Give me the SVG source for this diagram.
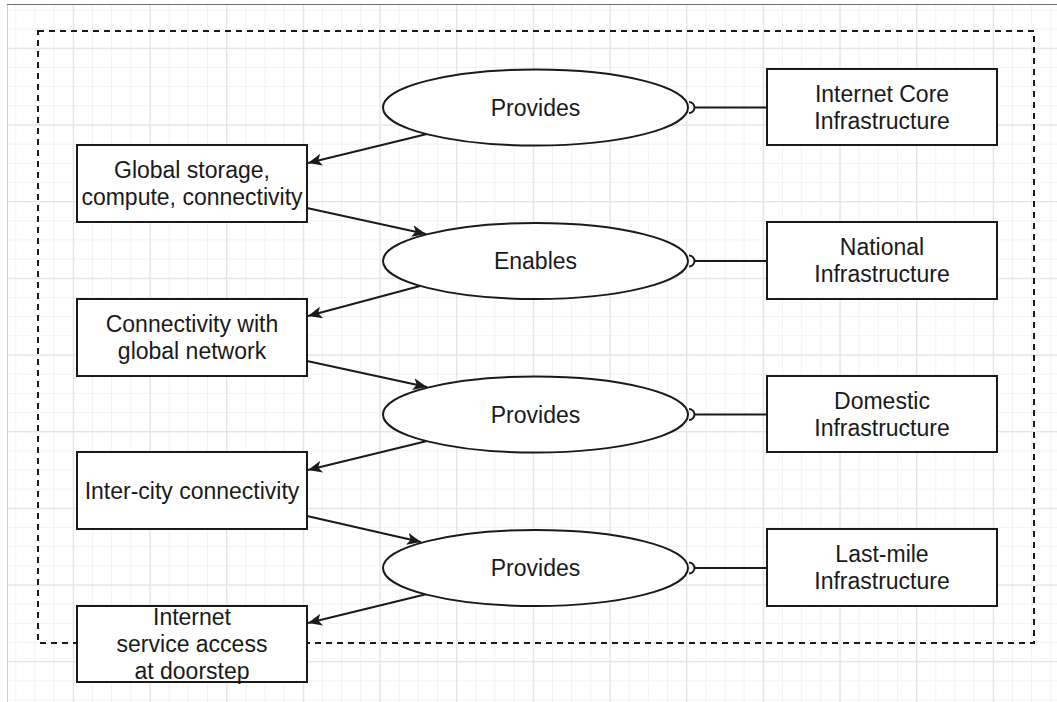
<svg xmlns="http://www.w3.org/2000/svg" width="1057" height="702" viewBox="0 0 1057 702">
  <style>
    .box { fill: #ffffff; stroke: #1a1a1a; stroke-width: 2; }
    .label { font-family: "Liberation Sans", Arial, Helvetica, sans-serif; font-size: 23px; fill: #1a1a1a; text-anchor: middle; }
    .edge { fill: none; stroke: #1a1a1a; stroke-width: 2; }
  </style>
  <defs>
    <pattern id="gridMinor" patternUnits="userSpaceOnUse" x="72.8" y="47.8" width="19.1667" height="19.1667">
      <path d="M0 0.5H19.1667M0.5 0V19.1667" stroke="#f2f2f2" stroke-width="1" fill="none"/>
    </pattern>
    <pattern id="gridMajor" patternUnits="userSpaceOnUse" x="72.8" y="47.8" width="76.6667" height="76.6667">
      <path d="M0 0.5H76.6667M0.5 0V76.6667" stroke="#e3e3e3" stroke-width="1.5" fill="none"/>
    </pattern>
    <marker id="arrow" viewBox="0 0 14 12" refX="14" refY="6" markerWidth="14" markerHeight="12" markerUnits="userSpaceOnUse" orient="auto">
      <path d="M0,0 L14,6 L0,12 L3.5,6 Z" fill="#1a1a1a"/>
    </marker>
  </defs>

  <!-- page background with grid -->
  <rect x="0" y="0" width="1057" height="702" fill="#ffffff"/>
  <rect x="7" y="4" width="1050" height="698" fill="url(#gridMinor)"/>
  <rect x="7" y="4" width="1050" height="698" fill="url(#gridMajor)"/>
  <line x1="7.5" y1="4" x2="7.5" y2="702" stroke="#cfcfcf" stroke-width="1"/>
  <line x1="7" y1="4.5" x2="1057" y2="4.5" stroke="#6e6e6e" stroke-width="1"/>

  <!-- dashed container -->
  <rect id="container" x="38" y="31" width="996" height="612" fill="none" stroke="#1a1a1a" stroke-width="2" stroke-dasharray="6 5"/>

  <!-- connectors -->
  <g id="connectors">
    <!-- ellipse to infrastructure links (half-circle ends) -->
    <path class="edge" d="M689,102 A5.5,5.5 0 0 1 689,113 M694.5,107.5 H767"/>
    <path class="edge" d="M689,255.5 A5.5,5.5 0 0 1 689,266.5 M694.5,261 H767"/>
    <path class="edge" d="M689,409 A5.5,5.5 0 0 1 689,420 M694.5,414.5 H767"/>
    <path class="edge" d="M689,562.5 A5.5,5.5 0 0 1 689,573.5 M694.5,568 H767"/>
    <!-- flow arrows -->
    <line class="edge" x1="427" y1="134" x2="308" y2="163" marker-end="url(#arrow)"/>
    <line class="edge" x1="307" y1="208" x2="426" y2="234" marker-end="url(#arrow)"/>
    <line class="edge" x1="420" y1="286" x2="308" y2="316" marker-end="url(#arrow)"/>
    <line class="edge" x1="307" y1="361" x2="427" y2="387" marker-end="url(#arrow)"/>
    <line class="edge" x1="427" y1="441" x2="308" y2="470" marker-end="url(#arrow)"/>
    <line class="edge" x1="307" y1="516" x2="421" y2="542" marker-end="url(#arrow)"/>
    <line class="edge" x1="427" y1="594" x2="308" y2="623" marker-end="url(#arrow)"/>
  </g>

  <!-- left column: outcomes -->
  <g id="global-storage">
    <rect class="box" x="77" y="145" width="230" height="77"/>
    <text class="label" x="192" y="178">Global storage,</text>
    <text class="label" x="192" y="205">compute, connectivity</text>
  </g>
  <g id="global-network">
    <rect class="box" x="77" y="299" width="230" height="77"/>
    <text class="label" x="192" y="332">Connectivity with</text>
    <text class="label" x="192" y="359">global network</text>
  </g>
  <g id="inter-city">
    <rect class="box" x="77" y="452" width="230" height="77"/>
    <text class="label" x="192" y="499">Inter-city connectivity</text>
  </g>
  <g id="doorstep">
    <rect class="box" x="77" y="606" width="230" height="76"/>
    <text class="label" x="192" y="625">Internet</text>
    <text class="label" x="192" y="652">service access</text>
    <text class="label" x="192" y="679">at doorstep</text>
  </g>

  <!-- middle column: relations -->
  <g id="provides-1">
    <ellipse class="box" cx="535.5" cy="107.5" rx="152.5" ry="38"/>
    <text class="label" x="535.5" y="115.5">Provides</text>
  </g>
  <g id="enables">
    <ellipse class="box" cx="535.5" cy="261" rx="152.5" ry="38"/>
    <text class="label" x="535.5" y="269">Enables</text>
  </g>
  <g id="provides-2">
    <ellipse class="box" cx="535.5" cy="414.5" rx="152.5" ry="38"/>
    <text class="label" x="535.5" y="422.5">Provides</text>
  </g>
  <g id="provides-3">
    <ellipse class="box" cx="535.5" cy="568" rx="152.5" ry="38"/>
    <text class="label" x="535.5" y="576">Provides</text>
  </g>

  <!-- right column: infrastructure layers -->
  <g id="core-infra">
    <rect class="box" x="767" y="69" width="230" height="76"/>
    <text class="label" x="882" y="101.5">Internet Core</text>
    <text class="label" x="882" y="128.5">Infrastructure</text>
  </g>
  <g id="national-infra">
    <rect class="box" x="767" y="222" width="230" height="77"/>
    <text class="label" x="882" y="255">National</text>
    <text class="label" x="882" y="282">Infrastructure</text>
  </g>
  <g id="domestic-infra">
    <rect class="box" x="767" y="376" width="230" height="76"/>
    <text class="label" x="882" y="408.5">Domestic</text>
    <text class="label" x="882" y="435.5">Infrastructure</text>
  </g>
  <g id="last-mile-infra">
    <rect class="box" x="767" y="529" width="230" height="77"/>
    <text class="label" x="882" y="562">Last-mile</text>
    <text class="label" x="882" y="589">Infrastructure</text>
  </g>
</svg>
